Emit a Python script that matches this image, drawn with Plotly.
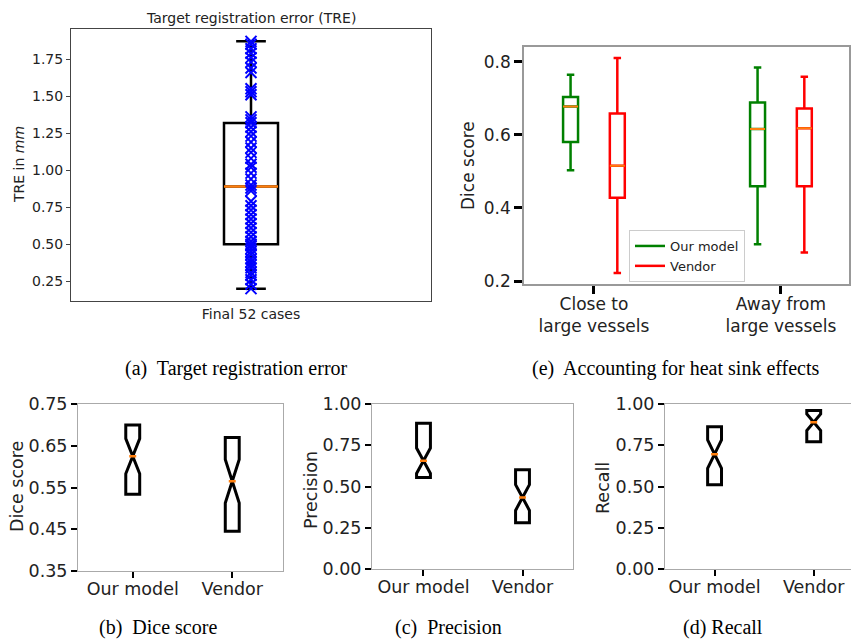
import plotly.graph_objects as go

W, H = 851, 639

# ---------------- data ----------------
# (a) Target registration error, final 52 cases (mm)
tre_values = [1.87, 1.85, 1.82, 1.79, 1.76, 1.73, 1.69, 1.66, 1.55, 1.53, 1.51, 1.36, 1.34,
              1.32, 1.29, 1.26, 1.23, 1.19, 1.15, 1.12, 1.08, 1.04, 1.02, 0.98, 0.94, 0.90,
              0.88, 0.86, 0.79, 0.76, 0.73, 0.70, 0.67, 0.64, 0.61, 0.58, 0.55, 0.52, 0.50,
              0.49, 0.47, 0.45, 0.43, 0.40, 0.38, 0.36, 0.34, 0.31, 0.29, 0.26, 0.23, 0.20]
tre_q1 = 0.50
tre_median = 0.889
tre_q3 = 1.318
tre_low = 0.20
tre_high = 1.87
tre_category = "Final 52 cases"

# (e) heat sink effects
heat_categories = ["Close to<br>large vessels", "Away from<br>large vessels"]
heat_models = ["Our model", "Vendor"]
heat_q1 = {"Our model": [0.580, 0.459], "Vendor": [0.428, 0.459]}
heat_median = {"Our model": [0.677, 0.616], "Vendor": [0.515, 0.618]}
heat_q3 = {"Our model": [0.703, 0.688], "Vendor": [0.658, 0.672]}
heat_low = {"Our model": [0.503, 0.301], "Vendor": [0.222, 0.278]}
heat_high = {"Our model": [0.764, 0.784], "Vendor": [0.810, 0.759]}

# (b)-(d) notched boxes
methods = ["Our model", "Vendor"]
dice_q1 = [0.534, 0.445]
dice_median = [0.625, 0.565]
dice_q3 = [0.700, 0.670]
dice_notch = [0.042, 0.052]

prec_q1 = [0.555, 0.281]
prec_median = [0.656, 0.433]
prec_q3 = [0.883, 0.601]
prec_notch = [0.077, 0.078]

rec_q1 = [0.510, 0.771]
rec_median = [0.696, 0.889]
rec_q3 = [0.862, 0.960]
rec_notch = [0.086, 0.050]

# ---------------- styling ----------------
ORANGE = "#ff7f0e"
TICK = "#222222"
FONT = "DejaVu Sans"
SERIF = "Liberation Serif"
CAP = 20
model_colors = {"Our model": "#008000", "Vendor": "#ff0000"}
model_offset = {"Our model": -0.125, "Vendor": 0.125}


def xd(a, b):
    return [a / W, min(b / W, 1.0)]


def yd(top, bottom):
    return [1 - bottom / H, 1 - top / H]


fig = go.Figure()

# ---- (a) TRE ----
fig.add_trace(go.Box(x=[0], q1=[tre_q1], median=[tre_median], q3=[tre_q3],
                     lowerfence=[tre_low], upperfence=[tre_high], orientation="v",
                     width=0.15, whiskerwidth=0.55, fillcolor="rgba(0,0,0,0)",
                     line=dict(color="black", width=2.5), boxpoints=False,
                     showlegend=False, xaxis="x", yaxis="y", hoverinfo="skip"))
fig.add_trace(go.Box(x=[0], q1=[tre_median], median=[tre_median], q3=[tre_median],
                     lowerfence=[tre_median], upperfence=[tre_median], orientation="v",
                     width=0.15, whiskerwidth=0, fillcolor="rgba(0,0,0,0)",
                     line=dict(color=ORANGE, width=2.5), boxpoints=False,
                     showlegend=False, xaxis="x", yaxis="y", hoverinfo="skip"))
fig.add_trace(go.Scatter(x=[0] * len(tre_values), y=tre_values, mode="markers",
                         marker=dict(symbol="x-thin", size=11, color="#0000ff",
                                     line=dict(width=2, color="#0000ff")),
                         showlegend=False, xaxis="x", yaxis="y"))

# ---- (e) heat sink ----
for m in heat_models:
    xs = [i + model_offset[m] for i in range(len(heat_categories))]
    fig.add_trace(go.Box(x=xs, q1=heat_q1[m], median=heat_median[m], q3=heat_q3[m],
                         lowerfence=heat_low[m], upperfence=heat_high[m], orientation="v",
                         width=0.08, whiskerwidth=0.5, fillcolor="rgba(0,0,0,0)",
                         line=dict(color=model_colors[m], width=2.5), boxpoints=False,
                         showlegend=False, xaxis="x2", yaxis="y2", hoverinfo="skip"))
    fig.add_trace(go.Box(x=xs, q1=heat_median[m], median=heat_median[m], q3=heat_median[m],
                         lowerfence=heat_median[m], upperfence=heat_median[m], orientation="v",
                         width=0.08, whiskerwidth=0, fillcolor="rgba(0,0,0,0)",
                         line=dict(color=ORANGE, width=2), boxpoints=False,
                         showlegend=False, xaxis="x2", yaxis="y2", hoverinfo="skip"))
for m in heat_models:
    fig.add_trace(go.Scatter(x=[None], y=[None], mode="lines", name=m,
                             line=dict(color=model_colors[m], width=2.5),
                             xaxis="x2", yaxis="y2"))

# ---- (b)-(d) notched ----
panels = [
    ("x3", "y3", dice_q1, dice_median, dice_q3, dice_notch),
    ("x4", "y4", prec_q1, prec_median, prec_q3, prec_notch),
    ("x5", "y5", rec_q1, rec_median, rec_q3, rec_notch),
]
for xa, ya, q1, med, q3, nt in panels:
    pos = [i + 1 for i in range(len(methods))]
    fig.add_trace(go.Box(x=pos, q1=q1, median=med, q3=q3, lowerfence=q1, upperfence=q3,
                         notched=True, notchspan=nt, notchwidth=0.5, orientation="v",
                         width=0.14, whiskerwidth=0, fillcolor="rgba(0,0,0,0)",
                         line=dict(color="black", width=3), boxpoints=False,
                         showlegend=False, xaxis=xa, yaxis=ya, hoverinfo="skip"))
    fig.add_trace(go.Box(x=pos, q1=med, median=med, q3=med, lowerfence=med, upperfence=med,
                         orientation="v", width=0.07, whiskerwidth=0,
                         fillcolor="rgba(0,0,0,0)", line=dict(color=ORANGE, width=2.5),
                         boxpoints=False, showlegend=False, xaxis=xa, yaxis=ya,
                         hoverinfo="skip"))


def axis(domain, rng, **kw):
    d = dict(domain=domain, range=rng, showgrid=False, zeroline=False, showline=True,
             mirror=True, fixedrange=True, automargin=False)
    d.update(kw)
    return d


fig.update_layout(
    template="none",
    width=W, height=H, margin=dict(l=0, r=0, t=0, b=0, pad=0), autosize=False,
    paper_bgcolor="white", plot_bgcolor="white",
    font=dict(family=FONT, color=TICK),
    showlegend=True,
    legend=dict(x=629 / W, y=1 - 230 / H, xanchor="left", yanchor="top",
                bgcolor="rgba(255,255,255,0.85)", bordercolor="#cccccc", borderwidth=1,
                font=dict(size=13, family=FONT, color=TICK), tracegroupgap=0,
                itemwidth=30),
    # (a)
    xaxis=axis(xd(71, 431), [-0.5, 0.5], anchor="y", tickvals=[0], ticktext=[tre_category],
               ticks="", linecolor="#444444", linewidth=1, tickfont=dict(size=14)),
    yaxis=axis(yd(29, 301), [0.1165, 1.9535], anchor="x",
               tickvals=[0.25, 0.5, 0.75, 1.0, 1.25, 1.5, 1.75], tickformat=".2f",
               ticks="outside", ticklen=4, tickwidth=1, tickcolor="#444444",
               linecolor="#444444", linewidth=1, tickfont=dict(size=14)),
    # (e)
    xaxis2=axis(xd(524, 849), [-0.374, 1.364], anchor="y2", tickvals=[0, 1],
                ticktext=heat_categories, ticks="outside", ticklen=8, tickwidth=3,
                tickcolor="black", linecolor="#999999", linewidth=1.5,
                tickfont=dict(size=17), ticklabelstandoff=-4),
    yaxis2=axis(yd(47, 284), [0.192, 0.84], anchor="x2", tickvals=[0.2, 0.4, 0.6, 0.8],
                tickformat=".1f", ticks="outside", ticklen=8, tickwidth=3,
                tickcolor="black", linecolor="#999999", linewidth=1.5,
                tickfont=dict(size=17)),
    # (b)
    xaxis3=axis(xd(78, 283), [0.45, 2.51], anchor="y3", tickvals=[1, 2], ticktext=methods,
                ticks="outside", ticklen=6, tickwidth=2, tickcolor="black",
                linecolor="#aaaaaa", linewidth=1, tickfont=dict(size=17.5),
                ticklabelstandoff=-4),
    yaxis3=axis(yd(404, 571), [0.35, 0.75], anchor="x3",
                tickvals=[0.35, 0.45, 0.55, 0.65, 0.75], tickformat=".2f",
                ticks="outside", ticklen=6, tickwidth=2, tickcolor="black",
                linecolor="#aaaaaa", linewidth=1, tickfont=dict(size=17.5)),
    # (c)
    xaxis4=axis(xd(372, 573), [0.48, 2.51], anchor="y4", tickvals=[1, 2], ticktext=methods,
                ticks="outside", ticklen=6, tickwidth=2, tickcolor="black",
                linecolor="#aaaaaa", linewidth=1, tickfont=dict(size=17.5),
                ticklabelstandoff=-4),
    yaxis4=axis(yd(404, 569), [0, 1], anchor="x4",
                tickvals=[0, 0.25, 0.5, 0.75, 1.0], tickformat=".2f",
                ticks="outside", ticklen=6, tickwidth=2, tickcolor="black",
                linecolor="#aaaaaa", linewidth=1, tickfont=dict(size=17.5)),
    # (d)
    xaxis5=axis(xd(665, 851), [0.5, 2.376], anchor="y5", tickvals=[1, 2], ticktext=methods,
                ticks="outside", ticklen=6, tickwidth=2, tickcolor="black",
                linecolor="#aaaaaa", linewidth=1, tickfont=dict(size=17.5),
                ticklabelstandoff=-4),
    yaxis5=axis(yd(404, 569), [0, 1], anchor="x5", mirror=False,
                tickvals=[0, 0.25, 0.5, 0.75, 1.0], tickformat=".2f",
                ticks="outside", ticklen=6, tickwidth=2, tickcolor="black",
                linecolor="#aaaaaa", linewidth=1, tickfont=dict(size=17.5)),
)

annotations = [
    # panel (a) title and axis title
    dict(text="Target registration error (TRE)", x=251 / W, y=1 - 18 / H,
         font=dict(size=14, family=FONT, color=TICK)),
    dict(text="TRE in <i>mm</i>", x=19 / W, y=1 - 165 / H, textangle=-90,
         font=dict(size=14, family=FONT, color=TICK)),
    # axis titles
    dict(text="Dice score", x=468 / W, y=1 - 166 / H, textangle=-90,
         font=dict(size=17, family=FONT, color=TICK)),
    dict(text="Dice score", x=17 / W, y=1 - 487 / H, textangle=-90,
         font=dict(size=17.5, family=FONT, color=TICK)),
    dict(text="Precision", x=311 / W, y=1 - 490 / H, textangle=-90,
         font=dict(size=17.5, family=FONT, color=TICK)),
    dict(text="Recall", x=603 / W, y=1 - 488 / H, textangle=-90,
         font=dict(size=17.5, family=FONT, color=TICK)),
    # captions
    dict(text="(a)  Target registration error", x=236 / W, y=1 - 368 / H,
         font=dict(size=CAP, family=SERIF, color="black")),
    dict(text="(e)  Accounting for heat sink effects", x=676 / W, y=1 - 368 / H,
         font=dict(size=CAP, family=SERIF, color="black")),
    dict(text="(b)  Dice score", x=158 / W, y=1 - 627 / H,
         font=dict(size=CAP, family=SERIF, color="black")),
    dict(text="(c)  Precision", x=448 / W, y=1 - 627 / H,
         font=dict(size=CAP, family=SERIF, color="black")),
    dict(text="(d) Recall", x=723 / W, y=1 - 627 / H,
         font=dict(size=CAP, family=SERIF, color="black")),
]
for a in annotations:
    a.update(xref="paper", yref="paper", showarrow=False, xanchor="center", yanchor="middle")
fig.update_layout(annotations=annotations)

fig.write_html("out.html", config={"displayModeBar": False},
               post_script="document.body.style.margin='0';document.body.style.overflow='hidden';")
